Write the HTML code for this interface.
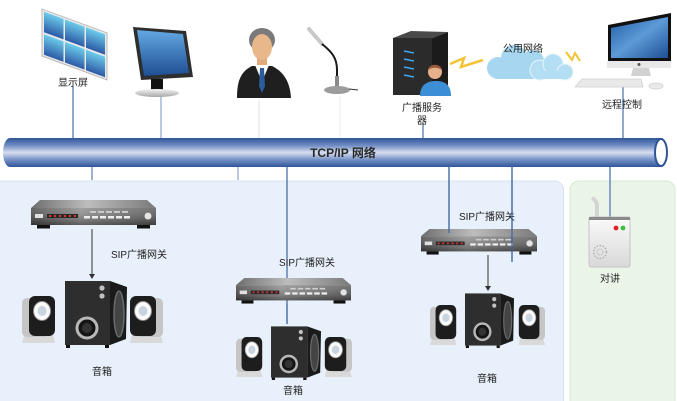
<!DOCTYPE html>
<html><head><meta charset="utf-8">
<style>
html,body{margin:0;padding:0;background:#fff;}
svg{display:block;}
text{font-family:"Liberation Sans","Noto Sans CJK SC",sans-serif;fill:#222;}
</style></head>
<body>
<svg width="677" height="401" viewBox="0 0 677 401" xmlns="http://www.w3.org/2000/svg">
<defs>
 <linearGradient id="pipe" x1="0" y1="0" x2="0" y2="1">
  <stop offset="0" stop-color="#2f5597"/>
  <stop offset="0.25" stop-color="#6f8bc2"/>
  <stop offset="0.5" stop-color="#d7def0"/>
  <stop offset="0.75" stop-color="#7590c5"/>
  <stop offset="1" stop-color="#2f5597"/>
 </linearGradient>
 <linearGradient id="gwTop" x1="0" y1="0" x2="1" y2="0">
  <stop offset="0" stop-color="#6e6e6e"/><stop offset="0.45" stop-color="#bdbdbd"/><stop offset="1" stop-color="#7a7a7a"/>
 </linearGradient>
 <linearGradient id="gwFront" x1="0" y1="0" x2="1" y2="0">
  <stop offset="0" stop-color="#4a4a4a"/><stop offset="0.4" stop-color="#8f8f8f"/><stop offset="1" stop-color="#5a5a5a"/>
 </linearGradient>
 <linearGradient id="gwShade" x1="0" y1="0" x2="0" y2="1">
  <stop offset="0" stop-color="#fff" stop-opacity="0.15"/><stop offset="1" stop-color="#000" stop-opacity="0.35"/>
 </linearGradient>
 <linearGradient id="panel" x1="0" y1="0" x2="0" y2="1">
  <stop offset="0" stop-color="#6ccbea"/><stop offset="1" stop-color="#2d5aa6"/>
 </linearGradient>
 <linearGradient id="scr" x1="0" y1="0" x2="0" y2="1">
  <stop offset="0" stop-color="#63a8e2"/><stop offset="1" stop-color="#1e4e92"/>
 </linearGradient>
 <linearGradient id="mac" x1="0" y1="0" x2="1" y2="1">
  <stop offset="0" stop-color="#1f5ea8"/><stop offset="0.5" stop-color="#5d9ad6"/><stop offset="1" stop-color="#1d4f94"/>
 </linearGradient>
 <linearGradient id="silver" x1="0" y1="0" x2="0" y2="1">
  <stop offset="0" stop-color="#f4f4f4"/><stop offset="1" stop-color="#a8a8a8"/>
 </linearGradient>
 <linearGradient id="ic" x1="0" y1="0" x2="0" y2="1">
  <stop offset="0" stop-color="#fafafa"/><stop offset="1" stop-color="#d9d9d9"/>
 </linearGradient>

 <symbol id="gw" viewBox="0 0 125 29" preserveAspectRatio="none">
  <polygon points="9,0 116,0 125,8 0,8" fill="url(#gwTop)"/>
  <rect x="0" y="8" width="125" height="17" fill="url(#gwFront)"/>
  <rect x="0" y="8" width="125" height="17" fill="url(#gwShade)"/>
  <rect x="6" y="25" width="13" height="3.5" fill="#111"/>
  <rect x="106" y="25" width="13" height="3.5" fill="#111"/>
  <rect x="4" y="14" width="8" height="4" fill="#e0e0e0"/>
  <rect x="16" y="14" width="31" height="4" fill="#2a2a2a"/>
  <g fill="#d33">
   <rect x="18" y="15" width="2" height="2"/><rect x="23" y="15" width="2" height="2"/><rect x="28" y="15" width="2" height="2"/>
   <rect x="33" y="15" width="2" height="2"/><rect x="38" y="15" width="2" height="2"/><rect x="43" y="15" width="2" height="2"/>
  </g>
  <g fill="#d0d0d0">
   <rect x="59" y="11" width="6" height="1.8"/><rect x="67" y="11" width="6" height="1.8"/><rect x="75" y="11" width="6" height="1.8"/>
   <rect x="83" y="11" width="6" height="1.8"/><rect x="91" y="11" width="6" height="1.8"/>
  </g>
  <g fill="#eee">
   <rect x="53" y="16" width="6" height="2.5"/><rect x="61" y="16" width="6" height="2.5"/><rect x="69" y="16" width="6" height="2.5"/>
   <rect x="77" y="16" width="6" height="2.5"/><rect x="85" y="16" width="6" height="2.5"/><rect x="93" y="16" width="6" height="2.5"/>
  </g>
  <circle cx="117" cy="16" r="3.8" fill="#e4e4e4" stroke="#777" stroke-width="0.8"/>
 </symbol>

 <symbol id="sub" viewBox="0 0 62 70" preserveAspectRatio="none">
  <rect x="0" y="3" width="45" height="64" fill="#2e2e2e"/>
  <polygon points="45,3 62,9 61,61 45,67" fill="#1a1a1a"/>
  <ellipse cx="54" cy="36" rx="5" ry="23" fill="#444" stroke="#6a6a6a" stroke-width="1.5"/>
  <circle cx="22" cy="50" r="10" fill="#151515" stroke="#b8b8b8" stroke-width="3"/>
  <circle cx="22" cy="50" r="5" fill="#333"/>
  <circle cx="37" cy="10" r="2.6" fill="#c2c2c2"/>
  <circle cx="37" cy="18" r="2.6" fill="#c2c2c2"/>
  <rect x="1" y="67" width="4" height="3" fill="#111"/>
  <rect x="40" y="67" width="4" height="3" fill="#111"/>
 </symbol>

 <symbol id="sat" viewBox="0 0 34 47" preserveAspectRatio="none">
  <polygon points="4,34 30,33 33,47 0,47" fill="#d9d9d9"/>
  <rect x="0" y="2" width="27" height="39" rx="5" fill="#c6c6c6"/>
  <rect x="7" y="0" width="26" height="40" rx="6" fill="#1d1d1d"/>
  <ellipse cx="20" cy="15" rx="8.5" ry="9.5" fill="#fafafa" stroke="#8a8a8a" stroke-width="1"/>
  <ellipse cx="20" cy="15" rx="4.5" ry="5" fill="#c9d4de"/>
 </symbol>
</defs>

<!-- background regions -->
<rect x="-10" y="181" width="573.5" height="240" rx="9" fill="#e8f1fb" stroke="#d4e3f4" stroke-width="1"/>
<rect x="570" y="181" width="105" height="240" rx="9" fill="#ebf5e7" stroke="#d5e8cf" stroke-width="1"/>

<!-- top connectors -->
<line x1="73" y1="86" x2="73" y2="139" stroke="#4a6fa8" stroke-width="1.2"/>
<line x1="161" y1="97" x2="161" y2="139" stroke="#8da7cf" stroke-width="1.2"/>
<line x1="259" y1="100" x2="259" y2="139" stroke="#e2e2e2" stroke-width="1"/>
<line x1="340" y1="96" x2="340" y2="139" stroke="#ececec" stroke-width="1"/>
<line x1="423" y1="123" x2="423" y2="139" stroke="#4a6fa8" stroke-width="1.2"/>
<line x1="623" y1="87" x2="623" y2="139" stroke="#4a6fa8" stroke-width="1.2"/>

<!-- bottom connectors -->
<line x1="92" y1="166" x2="92" y2="180" stroke="#5b7db5" stroke-width="1.2"/>
<line x1="238" y1="166" x2="238" y2="180" stroke="#8aa5cc" stroke-width="1.2"/>
<line x1="287" y1="166" x2="287" y2="324" stroke="#3e64a3" stroke-width="1.2"/>
<line x1="449" y1="166" x2="449" y2="231" stroke="#3e64a3" stroke-width="1.2"/>
<line x1="512" y1="166" x2="512" y2="262" stroke="#3e64a3" stroke-width="1.2"/>
<line x1="610" y1="166" x2="610" y2="218" stroke="#8aa5cc" stroke-width="2"/>

<!-- pipe -->
<path d="M10,138 L662,138 L662,167 L10,167 A7,14.5 0 0 1 10,138 Z" fill="url(#pipe)"/>
<ellipse cx="661" cy="152.5" rx="6" ry="13.5" fill="#fff" stroke="#2f5597" stroke-width="2"/>
<text x="343" y="157" font-size="12" font-weight="bold" text-anchor="middle" style="fill:#2a2a2a">TCP/IP 网络</text>

<!-- display wall -->
<g transform="matrix(1,0.369,0,1,42,9)">
 <rect x="0" y="0" width="65" height="47" fill="#e9e9e9" stroke="#b9b9b9" stroke-width="1"/>
 <rect x="2" y="2" width="19.5" height="20.5" fill="url(#panel)"/>
 <rect x="23" y="2" width="19.5" height="20.5" fill="url(#panel)"/>
 <rect x="44" y="2" width="19" height="20.5" fill="url(#panel)"/>
 <rect x="2" y="24.5" width="19.5" height="20.5" fill="url(#panel)"/>
 <rect x="23" y="24.5" width="19.5" height="20.5" fill="url(#panel)"/>
 <rect x="44" y="24.5" width="19" height="20.5" fill="url(#panel)"/>
</g>
<text x="73" y="86" font-size="10" text-anchor="middle">显示屏</text>

<!-- monitor -->
<polygon points="133,27 186,31 193,77 141,80" fill="#2e2e2e"/>
<polygon points="137,30 183,34 189,73 144,76" fill="url(#scr)"/>
<rect x="151" y="79" width="12" height="13" fill="#111"/>
<ellipse cx="157" cy="93" rx="22" ry="4" fill="url(#silver)"/>

<!-- person -->
<path d="M237,98 C237,82 240,72 252,66 L272,66 C284,72 290,82 291,98 Z" fill="#1f1f1f"/>
<polygon points="255,65 269,65 262,82" fill="#fff"/>
<polygon points="260,68 264,68 265,86 262,93 259,86" fill="#2b5c9b"/>
<rect x="257" y="55" width="10" height="10" fill="#e0aa7c"/>
<ellipse cx="262" cy="40" rx="13" ry="12" fill="#7a7a7a"/>
<ellipse cx="262" cy="47" rx="10" ry="13" fill="#e8b88a"/>

<!-- microphone -->
<line x1="309" y1="29" x2="322" y2="44" stroke="#c8c8c8" stroke-width="4" stroke-linecap="round"/>
<path d="M322,44 C332,52 337,58 337,70 L337,78" fill="none" stroke="#1a1a1a" stroke-width="2"/>
<rect x="335" y="76" width="4" height="12" fill="#8a8a8a"/>
<ellipse cx="337" cy="90" rx="13" ry="4" fill="#9c9c9c"/>
<path d="M349,89 L358,90" stroke="#333" stroke-width="1"/>

<!-- server -->
<polygon points="393,38 411,31 448,32 432,38" fill="#4a4a4a"/>
<rect x="393" y="38" width="39" height="57" fill="#2b2b2b"/>
<polygon points="432,38 448,32 448,90 432,95" fill="#1b1b1b"/>
<g stroke="#3fa9f5" stroke-width="1.5">
 <line x1="404" y1="51" x2="414" y2="53"/><line x1="404" y1="59" x2="414" y2="61"/>
 <line x1="404" y1="67" x2="414" y2="69"/><line x1="404" y1="75" x2="414" y2="77"/>
</g>
<path d="M420,96 C420,84 428,81 436,81 C444,81 451,84 451,96 Z" fill="#3c8fd6"/>
<circle cx="435" cy="72" r="7" fill="#e6b08a"/>
<path d="M428,70 C429,63 441,63 442,70 C438,67 432,67 428,70 Z" fill="#9a5a3a"/>
<text x="422" y="111" font-size="10" text-anchor="middle">广播服务</text>
<text x="422" y="124" font-size="10" text-anchor="middle">器</text>

<!-- lightning -->
<polyline points="450,64 464,58 461,67 483,60" fill="none" stroke="#f4c331" stroke-width="2.5"/>
<polyline points="566,52 572,60 575,53 580,61" fill="none" stroke="#f4c331" stroke-width="2"/>

<!-- cloud -->
<g fill="#a7d7f0">
 <circle cx="498" cy="68" r="11"/>
 <circle cx="514" cy="58" r="13"/>
 <circle cx="533" cy="61" r="11"/>
 <rect x="496" y="64" width="46" height="15"/>
</g>
<g fill="#b3def3" stroke="#e5f4fb" stroke-width="1">
 <circle cx="540" cy="70" r="10"/>
 <circle cx="553" cy="64" r="10"/>
 <circle cx="565" cy="72" r="8"/>
</g>
<rect x="538" y="71" width="30" height="8" fill="#b3def3"/>
<text x="523" y="52" font-size="10" text-anchor="middle">公用网络</text>

<!-- iMac -->
<polygon points="608,25 671,13 671,61 608,61" fill="#111"/>
<polygon points="611,28 668,17 668,58 611,58" fill="url(#mac)"/>
<rect x="607" y="61" width="64" height="7" fill="#e8e8e8"/>
<circle cx="639" cy="64.5" r="1.5" fill="#555"/>
<polygon points="633,68 649,68 651,76 631,76" fill="#d2d2d2"/>
<polygon points="575,87 582,79 641,79 643,87" fill="#e9e9e9" stroke="#cfcfcf" stroke-width="0.8"/>
<ellipse cx="656" cy="86" rx="7" ry="3" fill="#e9e9e9" stroke="#cfcfcf" stroke-width="0.8"/>
<text x="622" y="108" font-size="10" text-anchor="middle">远程控制</text>

<!-- left gateway -->
<use href="#gw" x="31" y="200" width="125" height="29"/>
<line x1="92" y1="229" x2="92" y2="275" stroke="#333" stroke-width="1"/>
<polygon points="89,274 95,274 92,279" fill="#333"/>
<text x="139" y="258" font-size="10" text-anchor="middle">SIP广播网关</text>
<use href="#sat" x="22" y="296" width="34" height="47"/>
<use href="#sub" x="65" y="278" width="62" height="70"/>
<g transform="translate(163,296) scale(-1,1)"><use href="#sat" x="0" y="0" width="34" height="47"/></g>
<text x="102" y="375" font-size="10" text-anchor="middle">音箱</text>

<!-- middle gateway -->
<text x="307" y="266" font-size="10" text-anchor="middle">SIP广播网关</text>
<use href="#gw" x="236" y="278" width="115" height="26"/>
<line x1="287" y1="304" x2="287" y2="324" stroke="#3e64a3" stroke-width="1.2"/>
<use href="#sat" x="236" y="337" width="27" height="40"/>
<use href="#sub" x="271" y="324" width="50" height="56"/>
<g transform="translate(352,337) scale(-1,1)"><use href="#sat" x="0" y="0" width="28" height="40"/></g>
<text x="293" y="394" font-size="10" text-anchor="middle">音箱</text>

<!-- right gateway -->
<text x="487" y="220" font-size="10" text-anchor="middle">SIP广播网关</text>
<use href="#gw" x="421" y="229" width="116" height="26"/>
<line x1="449" y1="166" x2="449" y2="233" stroke="#3e64a3" stroke-width="1.2"/>
<line x1="512" y1="166" x2="512" y2="262" stroke="#3e64a3" stroke-width="1.2"/>
<line x1="488" y1="255" x2="488" y2="287" stroke="#333" stroke-width="1"/>
<polygon points="485,286 491,286 488,291" fill="#333"/>
<use href="#sat" x="430" y="305" width="27" height="40"/>
<use href="#sub" x="465" y="291" width="49" height="57"/>
<g transform="translate(545,305) scale(-1,1)"><use href="#sat" x="0" y="0" width="27" height="40"/></g>
<text x="487" y="382" font-size="10" text-anchor="middle">音箱</text>

<!-- intercom -->
<path d="M597,218 L597,206 C597,201 594,199 592,198" fill="none" stroke="#d4d4d4" stroke-width="4"/>
<rect x="589" y="217" width="41" height="50" rx="2" fill="url(#ic)" stroke="#c4c4c4" stroke-width="1"/>
<rect x="589" y="217" width="41" height="3" fill="#8a8a8a"/>
<circle cx="616" cy="228" r="2.4" fill="#e02020"/>
<circle cx="623" cy="228" r="2.4" fill="#3cbf3c"/>
<circle cx="600" cy="252" r="6.5" fill="none" stroke="#b0b0b0" stroke-width="1.5" stroke-dasharray="1.5 1.5"/>
<circle cx="600" cy="252" r="3" fill="none" stroke="#b8b8b8" stroke-width="1.2" stroke-dasharray="1.2 1.2"/>
<text x="610" y="282" font-size="10" text-anchor="middle">对讲</text>
</svg>
</body></html>
